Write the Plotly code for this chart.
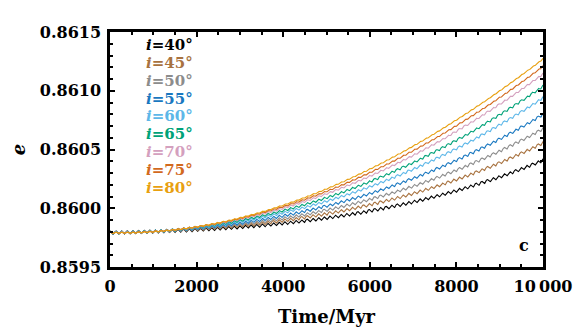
import numpy as np
import plotly.graph_objects as go

# ---- data ----
inclinations = [40, 45, 50, 55, 60, 65, 70, 75, 80]
colors = ["#000000", "#A8723F", "#8C8C8C", "#1A78C0", "#5DB7E8",
          "#00A278", "#D4A0BE", "#D2691E", "#E8A010"]

# secular trend of e read at these times (Myr)
trend_t = [0, 2000, 4000, 6000, 8000, 10000]
e_40 = [0.859790, 0.859821, 0.859870, 0.859968, 0.860159, 0.860405]
e_45 = [0.859790, 0.859827, 0.859893, 0.860019, 0.860255, 0.860553]
e_50 = [0.859790, 0.859831, 0.859913, 0.860063, 0.860337, 0.860672]
e_55 = [0.859790, 0.859836, 0.859936, 0.860111, 0.860423, 0.860794]
e_60 = [0.859790, 0.859842, 0.859962, 0.860168, 0.860523, 0.860936]
e_65 = [0.859790, 0.859845, 0.859979, 0.860213, 0.860593, 0.861035]
e_70 = [0.859790, 0.859848, 0.859999, 0.860263, 0.860668, 0.861140]
e_75 = [0.859790, 0.859849, 0.860014, 0.860292, 0.860717, 0.861205]
e_80 = [0.859790, 0.859849, 0.860026, 0.860322, 0.860765, 0.861268]
trends = [e_40, e_45, e_50, e_55, e_60, e_65, e_70, e_75, e_80]

# short-period oscillation
osc_amplitude = [1.4e-5, 1.35e-5, 1.3e-5, 1.25e-5, 1.15e-5, 1.1e-5, 0.9e-5, 0.7e-5, 0.55e-5]
osc_period = 130.0  # Myr

x_ticks = [0, 2000, 4000, 6000, 8000, 10000]
x_ticktext = ["0", "2000", "4000", "6000", "8000", "10\u2009000"]
y_ticks = [0.8595, 0.8600, 0.8605, 0.8610, 0.8615]
y_ticktext = ["0.8595", "0.8600", "0.8605", "0.8610", "0.8615"]

FONT = "DejaVu Serif"

t = np.linspace(0, 10000, 4001)
fig = go.Figure()
for inc, col, tr, amp in zip(inclinations, colors, trends, osc_amplitude):
    coef = np.polyfit(trend_t, tr, 3)
    base = np.polyval(coef, t)
    e = base + amp * np.cos(2 * np.pi * t / osc_period)
    fig.add_trace(go.Scatter(x=t, y=e, mode="lines", line=dict(color=col, width=1.1),
                             name=f"i={inc}°", showlegend=False))

# legend as text
legend_y = [0.945, 0.868, 0.793, 0.717, 0.641, 0.565, 0.489, 0.413, 0.337]
for inc, col, yy in zip(inclinations, colors, legend_y):
    fig.add_annotation(x=0.08, y=yy, xref="paper", yref="paper", xanchor="left",
                       yanchor="middle", showarrow=False, borderpad=0,
                       text=f"<i>i</i>={inc}°",
                       font=dict(family=FONT, size=15, color=col, weight="bold"))

fig.add_annotation(x=0.955, y=0.09, xref="paper", yref="paper", showarrow=False,
                   xanchor="center", yanchor="middle", text="c",
                   font=dict(family=FONT, size=16, color="black", weight="bold"))

axis_common = dict(showline=True, linecolor="black", linewidth=2.5, mirror="allticks",
                   ticks="inside", ticklen=5, tickwidth=2, tickcolor="black",
                   showgrid=False, zeroline=False,
                   tickfont=dict(family=FONT, size=16, color="black", weight="bold"))

fig.update_xaxes(range=[0, 10000], tickvals=x_ticks, ticktext=x_ticktext,
                 minor=dict(ticks="inside", dtick=500, ticklen=3, tickwidth=1.5, tickcolor="black"),
                 title=dict(text="Time/Myr", standoff=18,
                            font=dict(family=FONT, size=18, color="black", weight="bold")),
                 ticklabelstandoff=3, **axis_common)
fig.update_yaxes(range=[0.8595, 0.8615], tickvals=y_ticks, ticktext=y_ticktext,
                 minor=dict(ticks="inside", dtick=0.0001, ticklen=3, tickwidth=1.5, tickcolor="black"),
                 title=dict(text="<i>e</i>", standoff=12,
                            font=dict(family=FONT, size=18, color="black", weight="bold")),
                 ticklabelstandoff=3, **axis_common)

# page body has an 8px default margin, so the figure is 8px smaller than the window
fig.update_layout(width=573, height=319, margin=dict(l=102, r=38, t=24, b=60, autoexpand=False),
                  plot_bgcolor="white", paper_bgcolor="white")
fig.write_html("out.html")
